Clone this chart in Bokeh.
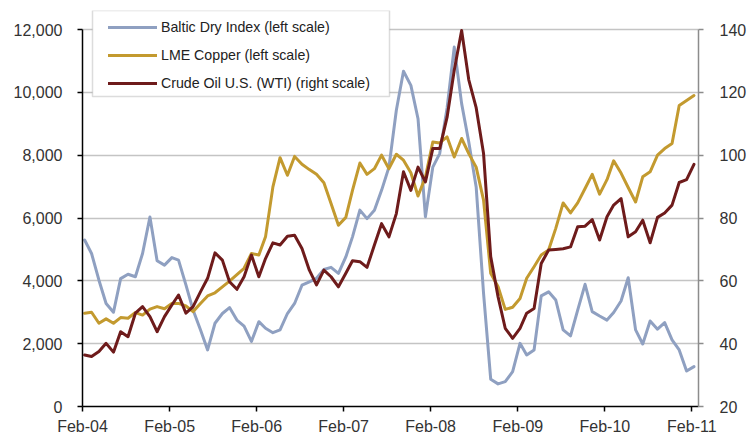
import pandas as pd
from bokeh.plotting import figure
from bokeh.models import (Range1d, LinearAxis, FixedTicker, NumeralTickFormatter,
                          DatetimeTickFormatter, Legend, LegendItem, BoxAnnotation)
from bokeh.embed import file_html
from bokeh.resources import INLINE

# ---- data (monthly, Feb-2004 .. Feb-2011) ----
start_month = "2004-02-01"
n_months = 85

baltic = [5300, 4870, 4020, 3280, 3000, 4070, 4210, 4130, 4870, 6030,
          4640, 4500, 4740, 4660, 3870, 3070, 2440, 1800, 2650, 2960,
          3150, 2750, 2560, 2070, 2700, 2490, 2350, 2440, 2960, 3280,
          3860, 3970, 4080, 4360, 4430, 4240, 4760, 5400, 6250, 5980,
          6250, 6880, 7620, 9430, 10670, 10220, 9160, 6040, 7620, 8050,
          9500, 11440, 9640, 8420, 6990, 3600, 870, 720, 790, 1110,
          2010, 1640, 1800, 3520, 3650, 3390, 2440, 2250, 3070, 3890,
          3020, 2880, 2750, 2990, 3360, 4100, 2440, 1990, 2720, 2460,
          2670, 2120, 1800, 1130, 1270]

copper = [2970, 3000, 2650, 2790, 2650, 2830, 2810, 2990, 2910, 3100,
          3180, 3110, 3280, 3280, 3200, 3020, 3280, 3520, 3620, 3810,
          3990, 4200, 4400, 4870, 4820, 5400, 6990, 7920, 7360, 7960,
          7710, 7540, 7390, 7120, 6460, 5770, 6020, 6880, 7750, 7390,
          7570, 8000, 7570, 8030, 7840, 7440, 6700, 7300, 8420, 8390,
          8580, 7940, 8530, 8050, 7620, 6570, 4240, 3810, 3090, 3160,
          3440, 4080, 4450, 4820, 4980, 5670, 6480, 6160, 6480, 6940,
          7390, 6760, 7220, 7820, 7430, 6970, 6510, 7310, 7470, 8000,
          8210, 8370, 9580, 9740, 9900]

oil = [36.4, 35.9, 37.5, 40.1, 37.3, 43.8, 42.2, 49.7, 51.8, 48.6,
       43.8, 48.6, 52.3, 55.5, 49.7, 51.8, 56.5, 60.8, 68.9, 66.6,
       59.7, 57.3, 61.3, 68.2, 61.3, 67.1, 72.1, 71.4, 74.2, 74.5,
       70.3, 63.4, 58.7, 63.4, 61.3, 58.1, 62.4, 66.4, 66.1, 64.3,
       71.4, 78.2, 74.0, 81.4, 94.7, 88.8, 96.2, 91.5, 102.1, 102.1,
       112.1, 127.0, 139.7, 124.0, 115.1, 100.5, 67.7, 54.9, 44.9, 41.7,
       44.9, 49.7, 51.2, 65.5, 69.8, 70.0, 70.2, 70.8, 77.2, 77.4,
       79.5, 73.0, 80.4, 84.1, 86.2, 74.0, 75.6, 79.3, 72.1, 80.2,
       81.6, 84.1, 91.3, 92.2, 97.1]

series_names = ["Baltic Dry Index (left scale)", "LME Copper (left scale)",
                "Crude Oil U.S. (WTI) (right scale)"]
series_colors = ["#8FA0C1", "#C39A2F", "#6E1B1B"]

tick_years = [2004, 2005, 2006, 2007, 2008, 2009, 2010, 2011]
left_ticks = [0, 2000, 4000, 6000, 8000, 10000, 12000]
right_ticks = [20, 40, 60, 80, 100, 120, 140]

dates = pd.date_range(start_month, periods=n_months, freq="MS") + pd.Timedelta(days=9)

FONT = "Liberation Sans"

# frame extends a little above the top gridline so the legend box fits
extra = 396.0 / 377.0
left_max = left_ticks[0] + (left_ticks[-1] - left_ticks[0]) * extra
right_max = right_ticks[0] + (right_ticks[-1] - right_ticks[0]) * extra

p = figure(width=754, height=440, x_axis_type="datetime",
           output_backend="svg", toolbar_location=None,
           x_range=Range1d(pd.Timestamp("2004-02-01"), pd.Timestamp("2011-03-01")),
           y_range=Range1d(left_ticks[0], left_max),
           min_border_left=82, min_border_right=56, min_border_top=10,
           min_border_bottom=34)
p.outline_line_color = None
p.background_fill_color = "white"

p.extra_y_ranges = {"oil": Range1d(right_ticks[0], right_max)}

r1 = p.line(dates, baltic, color=series_colors[0], line_width=3,
            line_join="round", line_cap="round")
r2 = p.line(dates, copper, color=series_colors[1], line_width=3,
            line_join="round", line_cap="round")
r3 = p.line(dates, oil, color=series_colors[2], line_width=3,
            line_join="round", line_cap="round", y_range_name="oil")

# x axis
xt = [pd.Timestamp(f"{y}-02-01").value // 10**6 for y in tick_years]
p.xaxis.ticker = FixedTicker(ticks=xt)
p.xaxis.formatter = DatetimeTickFormatter(
    milliseconds="%b-%y", seconds="%b-%y", minsec="%b-%y", minutes="%b-%y",
    hourmin="%b-%y", hours="%b-%y", days="%b-%y", months="%b-%y", years="%b-%y")
p.xgrid.grid_line_color = None

# left axis
p.yaxis.ticker = FixedTicker(ticks=left_ticks)
p.yaxis.formatter = NumeralTickFormatter(format="0,0")
p.yaxis.bounds = (left_ticks[0], left_ticks[-1])
p.ygrid.ticker = FixedTicker(ticks=left_ticks)
p.ygrid.grid_line_color = "#C4C4C4"
p.ygrid.grid_line_width = 1.5

# right axis
ra = LinearAxis(y_range_name="oil", ticker=FixedTicker(ticks=right_ticks),
                bounds=(right_ticks[0], right_ticks[-1]))
p.add_layout(ra, "right")

for ax in [p.xaxis[0], p.yaxis[0], ra]:
    ax.axis_line_width = 1.5
    ax.major_tick_line_width = 1.5
    ax.major_tick_in = 0
    ax.major_tick_out = 5
    ax.minor_tick_line_color = None
    ax.major_label_text_font = FONT
    ax.major_label_text_font_size = "16px"
    ax.major_label_text_color = "#333333"

p.xaxis.axis_line_color = "black"
p.xaxis.major_tick_line_color = "black"
p.xaxis.major_label_standoff = 6
p.yaxis[0].axis_line_color = "black"
p.yaxis[0].major_tick_line_color = "black"
p.yaxis[0].major_label_standoff = 15
ra.axis_line_color = "#8C8C8C"
ra.major_tick_line_color = "#8C8C8C"
ra.major_label_standoff = 16

# legend frame (screen units, measured from the frame's bottom-left corner)
box = BoxAnnotation(left=10, right=307, bottom=310, top=396,
                    left_units="screen", right_units="screen",
                    top_units="screen", bottom_units="screen",
                    fill_color="white", fill_alpha=1.0,
                    line_color="#8C8C8C", line_width=1.5)
p.add_layout(box)

legend = Legend(items=[LegendItem(label=series_names[0], renderers=[r1]),
                       LegendItem(label=series_names[1], renderers=[r2]),
                       LegendItem(label=series_names[2], renderers=[r3])],
                location=(26, 313), margin=0, padding=6, spacing=8,
                label_height=20, glyph_height=20, glyph_width=49,
                label_standoff=4, label_text_font=FONT,
                label_text_font_size="14.2px", label_text_color="#222222",
                border_line_color=None,
                background_fill_color="white", background_fill_alpha=0.0)
p.add_layout(legend, "center")

open("out.html", "w").write(file_html(p, INLINE))
